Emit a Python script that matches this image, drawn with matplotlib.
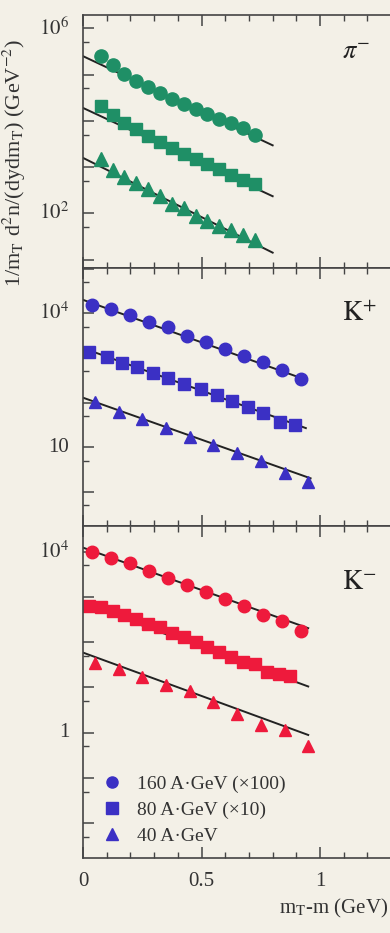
import matplotlib
matplotlib.use('Agg')
import matplotlib.pyplot as plt
from matplotlib.lines import Line2D
from matplotlib.ticker import LogLocator, MultipleLocator, NullFormatter

# ---- data ----
# pi- panel
pi_x = [0.075, 0.125, 0.175, 0.225, 0.275, 0.325, 0.375, 0.425, 0.475, 0.525, 0.575, 0.625, 0.675, 0.725]
pi_160 = [2.5e5, 1.65e5, 1.04e5, 7.4e4, 5.5e4, 3.9e4, 2.96e4, 2.3e4, 1.79e4, 1.4e4, 1.09e4, 8.75e3, 6.9e3, 5.0e3]
pi_80 = [2.09e4, 1.32e4, 9.1e3, 6.5e3, 4.8e3, 3.47e3, 2.63e3, 1.95e3, 1.48e3, 1.15e3, 890, 690, 537, 427]
pi_40 = [1470, 850, 607, 456, 327, 234, 160, 128, 86, 67, 52, 44, 34, 27]
pi_fit_x = [0.0, 0.8]
pi_fit_160 = [2.5e5, 2.95e3]
pi_fit_80 = [1.9e4, 234]
pi_fit_40 = [1.58e3, 14.1]

# K+ panel
kp_x160 = [0.04, 0.12, 0.20, 0.28, 0.36, 0.44, 0.52, 0.60, 0.68, 0.76, 0.84, 0.92]
kp_160 = [15350, 12270, 9160, 6280, 4850, 3150, 2240, 1560, 1110, 826, 538, 333]
kp_x80 = [0.027, 0.10, 0.165, 0.228, 0.296, 0.36, 0.427, 0.497, 0.564, 0.628, 0.698, 0.761, 0.831, 0.895]
kp_80 = [1380, 1047, 776, 617, 457, 355, 263, 204, 145, 110, 79, 60, 36, 32]
kp_x40 = [0.05, 0.15, 0.25, 0.35, 0.45, 0.55, 0.65, 0.75, 0.85, 0.95]
kp_40 = [105, 62.7, 42.4, 26.6, 17.3, 11.3, 7.35, 4.94, 2.62, 1.70]
kp_fit_x160 = [0.0, 0.92]
kp_fit_160 = [2.0e4, 355]
kp_fit_x80 = [0.0, 0.94]
kp_fit_80 = [1.66e3, 26.9]
kp_fit_x40 = [0.0, 0.96]
kp_fit_40 = [129, 2.02]

# K- panel
km_x160 = [0.04, 0.12, 0.20, 0.28, 0.36, 0.44, 0.52, 0.60, 0.68, 0.76, 0.84, 0.92]
km_160 = [1.0e4, 7130, 5520, 3750, 2580, 1840, 1310, 887, 631, 399, 299, 179]
km_x80 = [0.025, 0.075, 0.125, 0.175, 0.225, 0.275, 0.325, 0.375, 0.425, 0.475,
          0.525, 0.575, 0.625, 0.675, 0.725, 0.775, 0.825, 0.875]
km_80 = [631, 590, 498, 399, 321, 248, 213, 157, 132, 103, 80, 62, 48, 37, 33, 22.3, 19.8, 17.9]
km_x40 = [0.05, 0.15, 0.25, 0.35, 0.45, 0.55, 0.65, 0.75, 0.85, 0.95]
km_40 = [34.2, 25.1, 16.7, 11.3, 8.36, 4.84, 2.55, 1.48, 1.15, 0.51]
km_fit_x = [0.0, 0.95]
km_fit_160 = [1.23e4, 204]
km_fit_80 = [708, 10.5]
km_fit_40 = [58.9, 0.89]

legend_labels = [u'160 A\u00b7GeV (\u00d7100)', u'80 A\u00b7GeV (\u00d710)', u'40 A\u00b7GeV']

bg = '#f3f0e7'
green = '#1f8f66'
blue = '#3b30c4'
red = '#ee1a3c'
serif = ['Liberation Serif', 'DejaVu Serif']

plt.rcParams['font.family'] = serif
plt.rcParams['mathtext.fontset'] = 'stix'

fig = plt.figure(figsize=(3.9, 9.33), dpi=100, facecolor=bg)

left = 83 / 390.
def fy(px):
    return 1 - px / 933.

ax1 = fig.add_axes([left, fy(268), 1 - left, fy(15) - fy(268)])
ax2 = fig.add_axes([left, fy(526), 1 - left, fy(268) - fy(526)])
ax3 = fig.add_axes([left, fy(858), 1 - left, fy(526) - fy(858)])

ylims = [(10 ** 0.817, 10 ** 6.288), (10 ** -0.762, 10 ** 5.014), (10 ** -2.77, 10 ** 4.568)]
ytick_vals = [[1e2, 1e6], [10, 1e4], [1, 1e4]]
ytick_labs = [[r'$10^2$', r'$10^6$'], ['10', r'$10^4$'], ['1', r'$10^4$']]

for ax, yl, tv, tl in zip([ax1, ax2, ax3], ylims, ytick_vals, ytick_labs):
    ax.set_facecolor(bg)
    ax.set_yscale('log')
    ax.set_xlim(0, 1.295)
    ax.set_ylim(*yl)
    ax.spines['right'].set_visible(False)
    for s in ['left', 'top', 'bottom']:
        ax.spines[s].set_color('#444444')
        ax.spines[s].set_linewidth(1.2)
    ax.yaxis.set_major_locator(LogLocator(base=10, subs=[1.0], numticks=20))
    ax.yaxis.set_minor_locator(LogLocator(base=10, subs=[5.0], numticks=20))
    ax.yaxis.set_major_formatter(NullFormatter())
    ax.yaxis.set_minor_formatter(NullFormatter())
    # labelled decades drawn as text next to the axis
    for v, lab in zip(tv, tl):
        ax.annotate(lab, xy=(0, v), xycoords=('axes fraction', 'data'),
                    xytext=(-10, 0), textcoords='offset points',
                    ha='right', va='center', fontsize=15, color='#333333')
    ax.xaxis.set_major_locator(MultipleLocator(0.5))
    ax.xaxis.set_minor_locator(MultipleLocator(0.1))
    ax.tick_params(which='both', direction='in', top=True, bottom=True, left=True, right=False,
                   color='#444444')
    ax.tick_params(which='major', length=8, width=1.1)
    ax.tick_params(which='minor', length=4, width=1.0)
    ax.tick_params(axis='x', labelbottom=False)

ax3.tick_params(axis='x', labelbottom=True, labelsize=15, pad=10, labelcolor='#333333')
ax3.set_xticks([0, 0.5, 1])
ax3.set_xticklabels(['0', '0.5', '1'])

# pi- panel
ax1.plot(pi_fit_x, pi_fit_160, color='#222222', lw=1.4)
ax1.plot(pi_fit_x, pi_fit_80, color='#222222', lw=1.4)
ax1.plot(pi_fit_x, pi_fit_40, color='#222222', lw=1.4)
ax1.plot(pi_x, pi_160, 'o', color=green, ms=9.5, mec=green)
ax1.plot(pi_x, pi_80, 's', color=green, ms=9, mec=green)
ax1.plot(pi_x, pi_40, '^', color=green, ms=9.5, mec=green)
ax1.text(0.89, 0.85, r'$\pi^{-}$', transform=ax1.transAxes, fontsize=19, ha='center', va='center',
         color='#222222')

# K+ panel
ax2.plot(kp_fit_x160, kp_fit_160, color='#222222', lw=1.4)
ax2.plot(kp_fit_x80, kp_fit_80, color='#222222', lw=1.4)
ax2.plot(kp_fit_x40, kp_fit_40, color='#222222', lw=1.4)
ax2.plot(kp_x160, kp_160, 'o', color=blue, ms=9, mec=blue)
ax2.plot(kp_x80, kp_80, 's', color=blue, ms=8.5, mec=blue)
ax2.plot(kp_x40, kp_40, '^', color=blue, ms=9, mec=blue)
ax2.text(0.9, 0.82, r'$\mathrm{K}^{+}$', transform=ax2.transAxes, fontsize=20, ha='center', va='center',
         color='#222222')

# K- panel
ax3.plot(km_fit_x, km_fit_160, color='#222222', lw=1.4)
ax3.plot(km_fit_x, km_fit_80, color='#222222', lw=1.4)
ax3.plot(km_fit_x, km_fit_40, color='#222222', lw=1.4)
ax3.plot(km_x160, km_160, 'o', color=red, ms=9, mec=red)
ax3.plot(km_x80, km_80, 's', color=red, ms=8.5, mec=red)
ax3.plot(km_x40, km_40, '^', color=red, ms=9, mec=red)
ax3.text(0.9, 0.83, r'$\mathrm{K}^{-}$', transform=ax3.transAxes, fontsize=20, ha='center', va='center',
         color='#222222')

handles = [Line2D([], [], ls='none', marker='o', color=blue, ms=8),
           Line2D([], [], ls='none', marker='s', color=blue, ms=8),
           Line2D([], [], ls='none', marker='^', color=blue, ms=8)]
ax3.legend(handles, legend_labels, loc='lower left', bbox_to_anchor=(0.025, 0.005),
           frameon=False, fontsize=14, handlelength=1.0, handletextpad=0.8,
           labelspacing=0.42, borderaxespad=0.2, labelcolor='#333333')

fig.text(388 / 390., fy(908), r'm$_\mathrm{T}$-m (GeV)', ha='right', va='center', fontsize=15,
         color='#333333')

fig.text(1 / 390., fy(163), r'1/m$_\mathrm{T}$ d$^2$n/(dydm$_\mathrm{T}$) (GeV$^{-2}$)',
         rotation=90, ha='left', va='center', fontsize=16, color='#333333')

fig.savefig('out.png', dpi=100, facecolor=bg)
